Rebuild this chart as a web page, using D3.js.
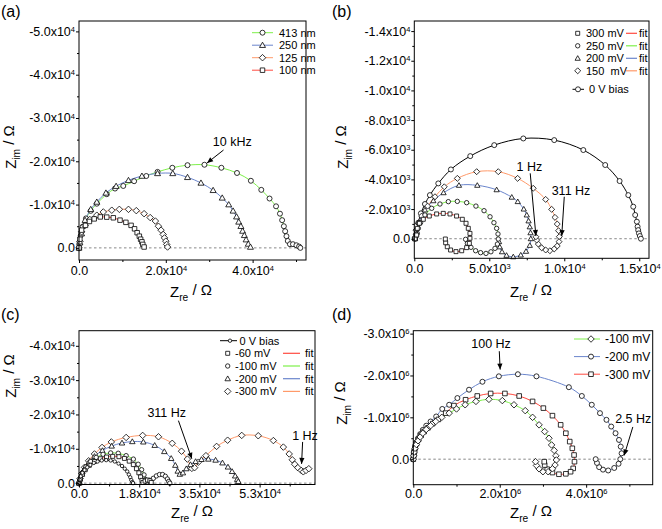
<!DOCTYPE html>
<html><head><meta charset="utf-8">
<script src="https://cdn.jsdelivr.net/npm/d3@7"></script>
<style>body{margin:0;background:#fff} text{font-family:"Liberation Sans",Arial,sans-serif;fill:#000}</style>
</head><body><svg id="c" width="662" height="529"></svg>
<script>
// ---------- DATA (x = Z_re, y = -Z_im) ----------
// Panel (a): units 1e4 Ohm
const a413 = [[0,0],[0.01,0.1],[0.04,0.29],[0.085,0.49],[0.16,0.68],[0.27,0.855],[0.41,1.02],[0.64,1.24],[0.83,1.37],[1.02,1.43],[1.27,1.54],[1.55,1.66],[1.81,1.755],[2.15,1.85],[2.50,1.91],[2.89,1.92],[3.28,1.85],[3.64,1.73],[3.96,1.55],[4.20,1.34],[4.39,1.14],[4.54,0.96],[4.63,0.79],[4.68,0.64],[4.72,0.50],[4.75,0.385],[4.78,0.27],[4.81,0.16],[4.86,0.085],[4.93,0.085],[5.01,0.06],[5.07,0.03],[5.10,0.0]];
const a250 = [[0,0],[0.02,0.12],[0.06,0.33],[0.14,0.64],[0.27,0.89],[0.41,1.06],[0.62,1.27],[0.855,1.425],[1.14,1.56],[1.45,1.66],[1.81,1.72],[2.16,1.72],[2.50,1.63],[2.81,1.50],[3.09,1.33],[3.30,1.155],[3.45,1.00],[3.55,0.855],[3.63,0.72],[3.68,0.60],[3.73,0.50],[3.77,0.39],[3.81,0.29],[3.85,0.19],[3.90,0.09],[3.95,0.02]];
const a125 = [[0,0],[0.02,0.15],[0.06,0.37],[0.14,0.52],[0.25,0.655],[0.41,0.755],[0.56,0.83],[0.755,0.87],[0.93,0.89],[1.14,0.89],[1.32,0.86],[1.50,0.79],[1.64,0.70],[1.76,0.62],[1.83,0.50],[1.89,0.41],[1.94,0.31],[1.97,0.23],[2.00,0.155],[2.02,0.08],[2.04,0.02]];
const a100 = [[0,0],[0.02,0.2],[0.06,0.41],[0.15,0.52],[0.24,0.61],[0.35,0.67],[0.49,0.715],[0.64,0.71],[0.79,0.695],[0.945,0.64],[1.08,0.59],[1.20,0.52],[1.28,0.44],[1.34,0.35],[1.39,0.27],[1.42,0.20],[1.45,0.14],[1.47,0.08],[1.50,0.02]];
// Panel (b): units 1e3 Ohm
const b300 = [[0.05,0.0],[0.16,0.25],[0.2,0.70],[0.34,1.04],[0.60,1.31],[1.0,1.53],[1.49,1.67],[1.93,1.71],[2.38,1.67],[2.82,1.53],[3.2,1.31],[3.45,1.04],[3.6,0.70],[3.71,0.36],[3.71,0.03],[3.67,-0.31],[3.49,-0.6],[3.16,-0.81],[2.78,-0.87],[2.42,-0.76],[2.2,-0.54],[2.09,-0.27],[2.07,-0.02]];
const b250 = [[0.05,0],[0.12,0.3],[0.27,0.70],[0.42,1.08],[0.71,1.6],[1.16,2.05],[1.71,2.34],[2.27,2.5],[2.87,2.52],[3.49,2.43],[4.11,2.2],[4.65,1.89],[5.05,1.48],[5.31,1.08],[5.49,0.70],[5.58,0.32],[5.6,-0.02],[5.54,-0.36],[5.38,-0.65],[5.11,-0.88],[4.78,-0.99],[4.42,-0.94],[4.09,-0.81],[3.78,-0.58],[3.54,-0.31],[3.42,-0.04]];
const b200 = [[0.05,0],[0.1,0.4],[0.3,1.1],[0.71,1.94],[1.27,2.56],[1.95,3.1],[2.98,3.6],[4.2,3.6],[5.49,3.3],[6.5,2.8],[6.9,2.5],[7.3,2.0],[7.5,1.6],[7.62,1.2],[7.7,0.8],[7.75,0.4],[7.77,0.0],[7.7,-0.45],[7.45,-0.85],[7.1,-1.1],[6.6,-1.22],[6.15,-1.12],[5.85,-0.88],[5.7,-0.55],[5.65,-0.2]];
const b150 = [[0.05,0.1],[0.11,0.58],[0.27,1.03],[0.49,1.53],[0.89,2.2],[1.38,2.83],[2.0,3.5],[2.87,4.07],[4.16,4.52],[5.6,4.52],[6.89,4.07],[7.93,3.40],[8.76,2.65],[9.16,1.98],[9.38,1.44],[9.53,0.99],[9.62,0.54],[9.67,0.135],[9.65,-0.2],[9.53,-0.49],[9.33,-0.69],[9.04,-0.81],[8.76,-0.76],[8.49,-0.61],[8.27,-0.36],[8.16,-0.09],[8.11,0.13]];
const b0 = [[0.05,0],[0.18,0.36],[0.27,1.08],[0.44,1.71],[0.71,2.34],[1.04,2.94],[1.6,3.73],[2.44,4.67],[3.73,5.57],[5.33,6.31],[7.27,6.76],[9.33,6.65],[11.27,5.98],[12.73,4.97],[13.69,3.89],[14.27,2.94],[14.6,2.16],[14.73,1.6],[14.84,1.15],[14.89,0.81],[14.93,0.58],[14.98,0.36],[15.04,0.18],[15.11,0]];
// Panel (c): units 1e4 Ohm
const c0 = [[0,0],[0.02,0.1],[0.05,0.2],[0.1,0.3],[0.16,0.38],[0.24,0.46],[0.33,0.53],[0.43,0.59],[0.54,0.63],[0.66,0.66],[0.79,0.67],[0.92,0.66],[1.04,0.63],[1.15,0.57],[1.25,0.5],[1.33,0.42],[1.4,0.34],[1.45,0.25],[1.49,0.17],[1.52,0.09],[1.55,0.03],[1.57,0]];
const c60 = [[0,0],[0.04,0.12],[0.1,0.26],[0.18,0.39],[0.3,0.52],[0.45,0.63],[0.62,0.71],[0.8,0.76],[0.98,0.78],[1.16,0.77],[1.32,0.72],[1.46,0.64],[1.58,0.54],[1.67,0.42],[1.74,0.3],[1.79,0.18],[1.83,0.08],[1.86,0.02],[1.92,0.06],[1.99,0.09],[2.06,0.07],[2.1,0.02]];
const c100 = [[0,0],[0.04,0.14],[0.1,0.3],[0.2,0.47],[0.34,0.63],[0.5,0.75],[0.7,0.84],[0.92,0.88],[1.14,0.87],[1.37,0.8],[1.58,0.7],[1.72,0.55],[1.82,0.39],[1.89,0.24],[1.94,0.1],[1.98,0.03],[2.06,0.08],[2.16,0.14],[2.25,0.21],[2.34,0.25],[2.43,0.25],[2.51,0.2],[2.57,0.12],[2.61,0.05],[2.64,0.0]];
const c200 = [[0,0],[0.03,0.12],[0.08,0.26],[0.16,0.42],[0.28,0.6],[0.45,0.78],[0.68,0.95],[0.95,1.08],[1.25,1.17],[1.55,1.21],[1.87,1.2],[2.2,1.1],[2.48,0.92],[2.68,0.72],[2.8,0.52],[2.87,0.35],[2.93,0.26],[3.02,0.3],[3.12,0.42],[3.24,0.54],[3.39,0.63],[3.56,0.69],[3.76,0.7],[3.97,0.67],[4.17,0.59],[4.33,0.47],[4.45,0.34],[4.54,0.21],[4.6,0.11],[4.63,0.05]];
const c300 = [[0,0],[0.03,0.13],[0.08,0.28],[0.16,0.46],[0.28,0.65],[0.45,0.85],[0.67,1.04],[0.94,1.2],[1.37,1.33],[1.85,1.39],[2.31,1.35],[2.71,1.16],[2.98,0.93],[3.15,0.7],[3.28,0.43],[3.36,0.45],[3.47,0.61],[3.69,0.8],[4.0,1.07],[4.32,1.25],[4.73,1.39],[5.21,1.38],[5.65,1.24],[5.94,1.05],[6.11,0.85],[6.2,0.68],[6.27,0.55],[6.36,0.45],[6.46,0.37],[6.52,0.33],[6.6,0.37],[6.68,0.42]];
// Panel (d): units 1e6 Ohm
const d100 = [[0,0],[0.01,0.08],[0.02,0.17],[0.04,0.26],[0.07,0.35],[0.11,0.44],[0.16,0.53],[0.22,0.62],[0.3,0.71],[0.4,0.8],[0.52,0.9],[0.66,1.0],[0.83,1.1],[1.0,1.2],[1.2,1.3],[1.45,1.38],[1.75,1.43],[2.06,1.40],[2.33,1.30],[2.59,1.16],[2.76,1.00],[2.91,0.82],[3.04,0.66],[3.14,0.50],[3.20,0.34],[3.26,0.21],[3.30,0.08],[3.31,-0.02],[3.28,-0.14],[3.22,-0.23],[3.12,-0.30],[3.00,-0.30],[2.91,-0.23],[2.85,-0.15],[2.83,-0.06]];
const d200 = [[0,0],[0.01,0.1],[0.02,0.2],[0.04,0.3],[0.07,0.4],[0.11,0.5],[0.16,0.6],[0.22,0.7],[0.3,0.8],[0.4,0.9],[0.53,1.02],[0.67,1.2],[0.83,1.3],[1.02,1.46],[1.29,1.66],[1.6,1.85],[1.98,1.98],[2.42,2.03],[2.85,1.98],[3.60,1.72],[3.90,1.51],[4.13,1.30],[4.32,1.10],[4.47,0.94],[4.58,0.78],[4.68,0.62],[4.76,0.46],[4.80,0.30],[4.82,0.14],[4.79,0.0],[4.75,-0.11],[4.65,-0.21],[4.51,-0.27],[4.39,-0.25],[4.30,-0.19],[4.25,-0.09],[4.22,0.0]];
const d300 = [[0,0],[0.01,0.09],[0.025,0.18],[0.045,0.27],[0.075,0.37],[0.12,0.47],[0.18,0.57],[0.25,0.66],[0.34,0.75],[0.45,0.85],[0.58,0.95],[0.75,1.1],[0.94,1.28],[1.21,1.42],[1.48,1.51],[1.79,1.57],[2.12,1.57],[2.45,1.51],[2.76,1.38],[3.01,1.22],[3.22,1.04],[3.41,0.82],[3.53,0.62],[3.62,0.42],[3.68,0.26],[3.72,0.10],[3.73,-0.06],[3.70,-0.22],[3.64,-0.30],[3.53,-0.35],[3.37,-0.36],[3.22,-0.32],[3.10,-0.24],[3.04,-0.14],[3.03,-0.06]];

// ---------- TICKS ----------
const aXTicks = [0,2,4], aXLabels = ["0.0","2.0x10^4","4.0x10^4"], aXMinor = [1,3,5];
const aYTicks = [0,1,2,3,4,5], aYLabels = ["0.0","-1.0x10^4","-2.0x10^4","-3.0x10^4","-4.0x10^4","-5.0x10^4"], aYMinor = [0.5,1.5,2.5,3.5,4.5];
const bXTicks = [0,5,10,15], bXLabels = ["0.0","5.0x10^3","1.0x10^4","1.5x10^4"], bXMinor = [2.5,7.5,12.5];
const bYTicks = [0,2,4,6,8,10,12,14], bYLabels = ["0.0","-2.0x10^3","-4.0x10^3","-6.0x10^3","-8.0x10^3","-1.0x10^4","-1.2x10^4","-1.4x10^4"], bYMinor = [1,3,5,7,9,11,13];
const cXTicks = [0,1.75,3.5,5.25], cXLabels = ["0.0","1.8x10^4","3.5x10^4","5.3x10^4"], cXMinor = [0.875,2.625,4.375,6.125];
const cYTicks = [0,1,2,3,4], cYLabels = ["0.0","-1.0x10^4","-2.0x10^4","-3.0x10^4","-4.0x10^4"], cYMinor = [0.5,1.5,2.5,3.5];
const dXTicks = [0,2,4], dXLabels = ["0.0","2.0x10^6","4.0x10^6"], dXMinor = [1,3,5];
const dYTicks = [0,1,2,3], dYLabels = ["0.0","-1.0x10^6","-2.0x10^6","-3.0x10^6"], dYMinor = [0.5,1.5,2.5];

// ---------- COLOURS ----------
const GREEN="#7ef04a", BLUE="#6a85cc", ORANGE="#ff9a6a", RED="#ff4a40", BLACK="#000";

const svg = d3.select("#c");

function markerPath(type, s){
  const h=s/2;
  if(type==="circle") return `M${h},0A${h},${h} 0 1,1 ${-h},0A${h},${h} 0 1,1 ${h},0Z`;
  if(type==="square") return `M${-h},${-h}H${h}V${h}H${-h}Z`;
  if(type==="triangle"){const k=h*1.2;return `M0,${-k}L${k},${k*0.75}L${-k},${k*0.75}Z`;}
  if(type==="diamond"){const k=h*1.3;return `M0,${-k}L${k},0L0,${k}L${-k},0Z`;}
}
function supify(sel){
  sel.each(function(){
    const t=d3.select(this), s=t.text(), i=s.indexOf("^");
    if(i<0) return;
    t.text(null);
    t.append("tspan").text(s.slice(0,i));
    t.append("tspan").attr("dy","-0.5em").attr("font-size","0.6em").text(s.slice(i+1));
  });
}
function zTitle(g, x, y, sub, rotate){
  const t=g.append("text").attr("font-size",15).attr("text-anchor","middle")
    .attr("transform",`translate(${x},${y})`+(rotate?" rotate(-90)":""));
  t.append("tspan").text("Z");
  t.append("tspan").attr("font-size","0.68em").attr("dy","0.35em").text(sub);
  t.append("tspan").attr("dy","-0.35em").text(" / Ω");
}
function arrow(g, x1,y1,x2,y2){
  g.append("line").attr("x1",x1).attr("y1",y1).attr("x2",x2).attr("y2",y2).attr("stroke","#000").attr("stroke-width",1);
  const a=Math.atan2(y2-y1,x2-x1), L=6, W=2.6;
  const p1=[x2-L*Math.cos(a)+W*Math.sin(a), y2-L*Math.sin(a)-W*Math.cos(a)];
  const p2=[x2-L*Math.cos(a)-W*Math.sin(a), y2-L*Math.sin(a)+W*Math.cos(a)];
  g.append("path").attr("d",`M${x2},${y2}L${p1[0]},${p1[1]}L${p2[0]},${p2[1]}Z`).attr("fill","#000");
}

const panels = [
 {label:"(a)", lp:[1,17], left:79,right:306,top:21,bottom:260, xDom:[0,5.23], yDom:[-0.28,5.24], xPad:3,
  xT:aXTicks,xL:aXLabels,xM:aXMinor,yT:aYTicks,yL:aYLabels,yM:aYMinor, xTitle:[191,297], yTitle:[16,147],
  series:[{d:a413,c:GREEN,m:"circle",s:5},{d:a250,c:BLUE,m:"triangle",s:5},{d:a125,c:ORANGE,m:"diamond",s:5},{d:a100,c:RED,m:"square",s:4.5}],
  notes:[{t:"10 kHz",tx:3.53,ty:2.45,ax1:3.33,ay1:2.26,ax2:2.95,ay2:1.96}]},
 {label:"(b)", lp:[332,17], left:414.3,right:649,top:21,bottom:258.3, xDom:[0,15.65], yDom:[-1.32,14.68], xPad:3,
  xT:bXTicks,xL:bXLabels,xM:bXMinor,yT:bYTicks,yL:bYLabels,yM:bYMinor, xTitle:[531,297], yTitle:[348,147],
  series:[{d:b0,c:BLACK,m:"circle",s:5},{d:b150,c:ORANGE,m:"diamond",s:4.6},{d:b200,c:BLUE,m:"triangle",s:4.4},{d:b250,c:GREEN,m:"circle",s:4.4},{d:b300,c:RED,m:"square",s:4}],
  notes:[{t:"1 Hz",tx:7.67,ty:4.86,ax1:7.73,ay1:4.41,ax2:8.11,ay2:0.18},{t:"311 Hz",tx:10.45,ty:3.28,ax1:10.0,ay1:2.83,ax2:9.83,ay2:0.18}]},
 {label:"(c)", lp:[1,320], left:79,right:315,top:330.7,bottom:484.5, xDom:[0,6.86], yDom:[-0.04,4.44], xPad:1.5,
  xT:cXTicks,xL:cXLabels,xM:cXMinor,yT:cYTicks,yL:cYLabels,yM:cYMinor, xTitle:[192,518], yTitle:[16,376],
  series:[{d:c300,c:ORANGE,m:"diamond",s:5},{d:c200,c:BLUE,m:"triangle",s:4.6},{d:c100,c:GREEN,m:"circle",s:4.4},{d:c60,c:RED,m:"square",s:4},{d:c0,c:BLACK,m:"circle",s:3.4}],
  notes:[{t:"311 Hz",tx:2.55,ty:2.06,ax1:2.89,ay1:1.82,ax2:3.28,ay2:0.71},{t:"1 Hz",tx:6.57,ty:1.38,ax1:6.5,ay1:1.2,ax2:6.47,ay2:0.56}]},
 {label:"(d)", lp:[332,320], left:413.3,right:652.7,top:330.7,bottom:484.7, xDom:[0,5.54], yDom:[-0.61,3.07], xPad:1.5,
  xT:dXTicks,xL:dXLabels,xM:dXMinor,yT:dYTicks,yL:dYLabels,yM:dYMinor, xTitle:[531,518], yTitle:[347,403],
  series:[{d:d200,c:BLUE,m:"circle",s:5},{d:d300,c:RED,m:"square",s:4.6},{d:d100,c:GREEN,m:"diamond",s:5}],
  notes:[{t:"100 Hz",tx:1.80,ty:2.76,ax1:1.99,ay1:2.58,ax2:2.01,ay2:2.14},{t:"2.5 Hz",tx:5.09,ty:0.96,ax1:5.08,ay1:0.77,ax2:4.88,ay2:0.09}]}
];

panels.forEach(p=>{
  const g=svg.append("g");
  const x=d3.scaleLinear().domain(p.xDom).range([p.left,p.right]);
  const y=d3.scaleLinear().domain(p.yDom).range([p.bottom,p.top]);
  p.x=x; p.y=y; p.g=g;
  g.append("line").attr("x1",p.left).attr("x2",p.right).attr("y1",y(0)).attr("y2",y(0))
    .attr("stroke","#888").attr("stroke-width",1).attr("stroke-dasharray","2.5,2.5");
  const line=d3.line().x(d=>x(d[0])).y(d=>y(d[1])).curve(d3.curveCatmullRom.alpha(0.5));
  p.series.forEach(s=>{
    g.append("path").datum(s.d).attr("d",line).attr("fill","none").attr("stroke",s.c).attr("stroke-width",1);
  });
  p.series.forEach(s=>{
    g.append("g").selectAll("path").data(s.d).join("path")
      .attr("transform",d=>`translate(${x(d[0])},${y(d[1])})`)
      .attr("d",markerPath(s.m,s.s)).attr("fill","#fff").attr("stroke","#000").attr("stroke-width",0.8);
  });
  g.append("rect").attr("x",p.left).attr("y",p.top).attr("width",p.right-p.left).attr("height",p.bottom-p.top)
    .attr("fill","none").attr("stroke","#000").attr("stroke-width",1);
  const xa=g.append("g").attr("transform",`translate(0,${p.bottom})`)
    .call(d3.axisBottom(x).tickValues(p.xT).tickSize(3).tickPadding(p.xPad).tickFormat((d,i)=>p.xL[i]));
  const xm=g.append("g").attr("transform",`translate(0,${p.bottom})`)
    .call(d3.axisBottom(x).tickValues(p.xM).tickSize(2).tickFormat(""));
  const ya=g.append("g").attr("transform",`translate(${p.left},0)`)
    .call(d3.axisLeft(y).tickValues(p.yT).tickSize(3).tickPadding(1).tickFormat((d,i)=>p.yL[i]));
  const ym=g.append("g").attr("transform",`translate(${p.left},0)`)
    .call(d3.axisLeft(y).tickValues(p.yM).tickSize(2).tickFormat(""));
  [xa,xm,ya,ym].forEach(a=>{a.select(".domain").remove(); a.selectAll("text").attr("font-size",12.5).attr("font-family","Liberation Sans, Arial, sans-serif"); a.selectAll("line").attr("stroke","#000");});
  xa.selectAll("text").call(supify);
  ya.selectAll("text").call(supify);
  zTitle(g,p.xTitle[0],p.xTitle[1],"re",false);
  zTitle(g,p.yTitle[0],p.yTitle[1],"im",true);
  g.append("text").attr("x",p.lp[0]).attr("y",p.lp[1]).attr("font-size",16).text(p.label);
  p.notes.forEach(n=>{
    g.append("text").attr("x",x(n.tx)).attr("y",y(n.ty)+4.5).attr("text-anchor","middle").attr("font-size",12.5).text(n.t);
    arrow(g,x(n.ax1),y(n.ay1),x(n.ax2),y(n.ay2));
  });
});

// ---------- LEGENDS ----------
function legMarker(g,type,cx,cy,s){
  g.append("path").attr("transform",`translate(${cx},${cy})`).attr("d",markerPath(type,s))
   .attr("fill","#fff").attr("stroke","#000").attr("stroke-width",0.8);
}
function legText(g,x,y,t,fs){ g.append("text").attr("x",x).attr("y",y+(fs||11)*0.36).attr("font-size",fs||11).style("white-space","pre").text(t); }
// (a)
{
  const g=panels[0].g;
  const names=["413 nm","250 nm","125 nm","100 nm"];
  panels[0].series.forEach((s,i)=>{
    const yy=32.7+i*12.5;
    g.append("line").attr("x1",252).attr("x2",273).attr("y1",yy).attr("y2",yy).attr("stroke",s.c).attr("stroke-width",1);
    legMarker(g,s.m,262.5,yy,s.s);
    legText(g,279,yy,names[i]);
  });
}
// (b)
{
  const g=panels[1].g;
  const rows=[["300 mV",RED,"square",4],["250 mV",GREEN,"circle",4.4],["200 mV",BLUE,"triangle",4.4],["150  mV",ORANGE,"diamond",4.6]];
  rows.forEach((r,i)=>{
    const yy=33.3+i*12.5;
    legMarker(g,r[2],577.7,yy,r[3]);
    legText(g,586,yy,r[0]);
    g.append("line").attr("x1",626).attr("x2",637).attr("y1",yy).attr("y2",yy).attr("stroke",r[1]).attr("stroke-width",1.2);
    legText(g,639,yy,"fit");
  });
  const yy=89.3;
  g.append("line").attr("x1",572.5).attr("x2",584).attr("y1",yy).attr("y2",yy).attr("stroke","#000");
  legMarker(g,"circle",578,yy,5);
  legText(g,589,yy,"0 V bias");
}
// (c)
{
  const g=panels[2].g;
  let yy=340.7;
  g.append("line").attr("x1",220).attr("x2",237).attr("y1",yy).attr("y2",yy).attr("stroke","#000");
  legMarker(g,"circle",230,yy,3.4);
  legText(g,239.5,yy,"0 V bias");
  const rows=[["-60 mV",RED,"square",4],["-100 mV",GREEN,"circle",4.4],["-200 mV",BLUE,"triangle",4.6],["-300 mV",ORANGE,"diamond",5]];
  rows.forEach((r,i)=>{
    yy=353.3+i*12.7;
    legMarker(g,r[2],227.7,yy,r[3]);
    legText(g,235,yy,r[0]);
    g.append("line").attr("x1",283).attr("x2",300).attr("y1",yy).attr("y2",yy).attr("stroke",r[1]).attr("stroke-width",1.2);
    legText(g,305,yy,"fit");
  });
}
// (d)
{
  const g=panels[3].g;
  const rows=[["-100 mV",GREEN,"diamond",5],["-200 mV",BLUE,"circle",5],["-300 mV",RED,"square",4.6]];
  rows.forEach((r,i)=>{
    const yy=339+i*17.6;
    g.append("line").attr("x1",574).attr("x2",600).attr("y1",yy).attr("y2",yy).attr("stroke",r[1]).attr("stroke-width",1);
    legMarker(g,r[2],591,yy,r[3]);
    legText(g,605,yy,r[0],12);
  });
}
</script>
</body></html>
